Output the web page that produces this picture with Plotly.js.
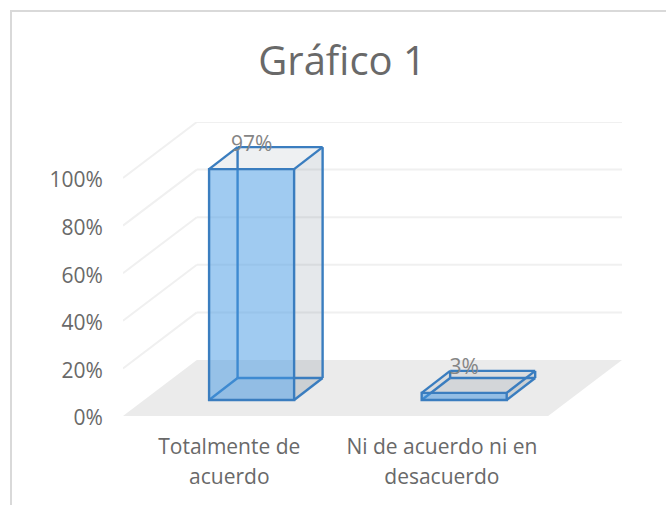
<!DOCTYPE html>
<html>
<head>
<meta charset="utf-8">
<script src="https://cdn.plot.ly/plotly-3.0.1.min.js"></script>
<style>
html,body{margin:0;padding:0;background:#fff;overflow:hidden}
#frame{position:absolute;left:10px;top:10px;width:656px;height:495px;border-left:2px solid #d9d9d9;border-top:2px solid #d9d9d9;box-sizing:border-box}
#chart{position:absolute;left:0;top:0;width:666px;height:506px}
</style>
</head>
<body>
<div id="frame"></div>
<div id="chart"></div>
<script>
const titleText = "Gráfico 1";
const categories = ["Totalmente de<br>acuerdo", "Ni de acuerdo ni en<br>desacuerdo"];
const categoryPositions = [0.5, 1.5];
const values = [0.97, 0.03];
const valueLabels = ["97%", "3%"];
const yTicks = [0, 0.2, 0.4, 0.6, 0.8, 1];
const yTickLabels = ["0%", "20%", "40%", "60%", "80%", "100%"];

// pseudo-3D projection, in axis units
const wallDx = 0.3474, wallDy = 0.2353;   // depth of the floor and side wall
const barShift = 0.105, barBase = 0.0672; // front face of a bar inside the floor
const barWidth = 0.4, barDx = 0.134, barDy = 0.0924; // width and depth of a bar
const nCat = 2;

const xMax = nCat + wallDx, yMax = 1 + wallDy;
const textColor = "#696969";
const edge = "#3a7dbf";

function poly(pts, fill, lineColor, lineWidth) {
  const path = pts.map((p, i) => (i ? "L" : "M") + p[0] + "," + p[1]).join(" ") + " Z";
  return {type: "path", xref: "x", yref: "y", layer: "below", path,
          fillcolor: fill, line: {color: lineColor || "rgba(0,0,0,0)", width: lineWidth || 0}};
}
function seg(a, b, color, width) {
  return {type: "line", xref: "x", yref: "y", layer: "below",
          x0: a[0], y0: a[1], x1: b[0], y1: b[1], line: {color, width}};
}

const shapes = [];
// floor
shapes.push(poly([[0,0],[nCat,0],[nCat+wallDx,wallDy],[wallDx,wallDy]], "#ebebeb"));
// gridlines on the side wall and back wall
yTicks.slice(1).forEach(t => {
  shapes.push(seg([0,t],[wallDx,t+wallDy],"#f0f0f0",2));
  shapes.push(seg([wallDx,t+wallDy],[nCat+wallDx,t+wallDy],"#f0f0f0",2));
});
// bar faces behind the translucent front
values.forEach((v, i) => {
  const l = categoryPositions[i] + barShift - barWidth/2, r = l + barWidth;
  const b = barBase, t = barBase + v;
  const d = barDx, h = barDy;
  // bottom and back faces
  shapes.push(poly([[l,b],[r,b],[r+d,b+h],[l+d,b+h]], "rgba(68,84,106,0.05)"));
  // right side
  shapes.push(poly([[r,b],[r+d,b+h],[r+d,t+h],[r,t]], "rgba(68,90,116,0.14)"));
  // top
  shapes.push(poly([[l,t],[r,t],[r+d,t+h],[l+d,t+h]], "rgba(68,90,116,0.09)"));
  // edges
  [[[l,b],[l+d,b+h]], [[l+d,b+h],[r+d,b+h]], [[l+d,b+h],[l+d,t+h]], [[r,b],[r+d,b+h]],
   [[r+d,b+h],[r+d,t+h]], [[l,t],[l+d,t+h]], [[l+d,t+h],[r+d,t+h]], [[r,t],[r+d,t+h]]]
    .forEach(s => shapes.push(seg(s[0], s[1], edge, 2.4)));
});

const barTrace = {
  type: "bar",
  x: categoryPositions.map(p => p + barShift),
  y: values,
  base: barBase,
  width: barWidth,
  marker: {color: "rgba(65,151,227,0.5)", line: {color: edge, width: 2.4}},
  hoverinfo: "skip"
};
const labelTrace = {
  type: "scatter",
  mode: "text",
  x: categoryPositions.map(p => p + barShift),
  y: values.map(v => barBase + v + 0.1),
  text: valueLabels,
  textposition: "middle center",
  textfont: {family: "Open Sans", size: 21, color: "#858585"},
  hoverinfo: "skip",
  cliponaxis: false
};

const layout = {
  width: 666, height: 506,
  margin: {l: 123, r: 44, t: 122, b: 90, pad: 0},
  paper_bgcolor: "rgba(0,0,0,0)",
  plot_bgcolor: "rgba(0,0,0,0)",
  showlegend: false,
  title: {text: titleText, font: {family: "Open Sans", size: 40, color: textColor},
          x: 0.5136, xanchor: "center", y: 0.879, yanchor: "middle"},
  xaxis: {range: [0, xMax], tickmode: "array", tickvals: categoryPositions, ticktext: categories,
          ticks: "outside", ticklen: 12, tickcolor: "rgba(0,0,0,0)", showgrid: false, zeroline: false, showline: false,
          tickangle: 0, tickfont: {family: "Open Sans", size: 21, color: textColor}},
  yaxis: {range: [0, yMax], tickmode: "array", tickvals: yTicks, ticktext: yTickLabels,
          ticks: "outside", ticklen: 15, ticklabelshift: 2, tickcolor: "rgba(0,0,0,0)", showgrid: false, zeroline: false, showline: false,
          tickfont: {family: "Open Sans", size: 21, color: textColor}},
  shapes
};

Plotly.newPlot("chart", [barTrace, labelTrace], layout, {displayModeBar: false, staticPlot: true}).then(() => {
  document.querySelectorAll(".xtick text tspan.line:nth-child(2)").forEach(t => t.setAttribute("dy", "30"));
});
</script>
</body>
</html>
